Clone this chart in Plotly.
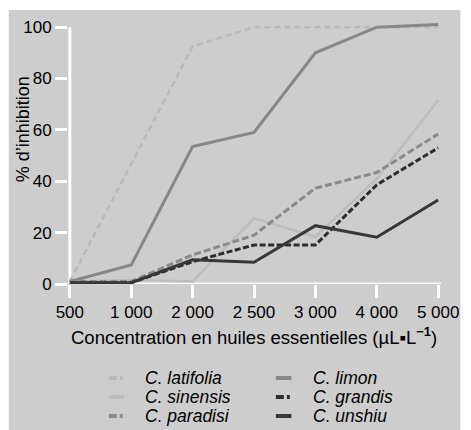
import plotly.graph_objects as go

concentrations = ["500", "1 000", "2 000", "2 500", "3 000", "4 000", "5 000"]
latifolia = [1, 47, 92.5, 100, 100, 100, 100]
sinensis = [1, 1.6, 1, 25.6, 18.4, 41, 71.5]
paradisi = [1, 1, 11.3, 19, 37.3, 43.4, 58.4]
limon = [1, 7.4, 53.5, 59, 90, 100, 101]
grandis = [0.5, 0.5, 8.7, 15.2, 15.2, 38.6, 53]
unshiu = [0.5, 0.5, 9.4, 8.5, 22.7, 18.2, 32.7]
y_ticks = [0, 20, 40, 60, 80, 100]

W, H = 471, 430
L, R, T, B = 68, 20, 22, 146
PW, PH = W - L - R, H - T - B


def px(x):
    return (x - L) / PW


def py(y):
    return (H - B - y) / PH


FONT = "Liberation Sans, Arial, Helvetica, sans-serif"
BG = "#cdcdcd"

series = [
    ("C. latifolia", latifolia, "#b9b9b9", "6px,4px", 2.5),
    ("C. sinensis", sinensis, "#bdbdbd", "solid", 2.5),
    ("C. paradisi", paradisi, "#8a8a8a", "7px,3px", 3),
    ("C. limon", limon, "#878787", "solid", 3),
    ("C. grandis", grandis, "#2e2e2e", "6px,2.5px", 3),
    ("C. unshiu", unshiu, "#383838", "solid", 3),
]

fig = go.Figure()
for name, vals, col, dash, w in series:
    fig.add_trace(go.Scatter(x=concentrations, y=vals, mode="lines", name=name,
                             line=dict(color=col, dash=dash, width=w),
                             showlegend=False, hoverinfo="skip"))

shapes = [
    dict(type="rect", xref="paper", yref="paper", x0=px(7), x1=px(472), y0=py(431), y1=py(10),
         fillcolor=BG, line=dict(width=0), layer="below"),
    dict(type="line", xref="x", yref="y", x0=0, x1=0, y0=0, y1=100,
         line=dict(color="white", width=3), layer="below"),
    dict(type="line", xref="paper", yref="y", x0=px(68), x1=px(452), y0=0, y1=0,
         line=dict(color="white", width=3), layer="below"),
]

annotations = [
    dict(text="% d\u2019inhibition", xref="paper", yref="paper", x=px(22), y=py(129),
         textangle=-90, showarrow=False, xanchor="center", yanchor="middle",
         font=dict(size=18, color="black", family=FONT)),
    dict(text="Concentration en huiles essentielles (\u00b5L\u25aaL<sup><b>\u22121</b></sup>)",
         xref="paper", yref="paper", x=px(260), y=py(336), showarrow=False,
         xanchor="center", yanchor="middle", font=dict(size=18.5, color="black", family=FONT)),
]

legend_dash = {
    "C. latifolia": "8px,3px,3px,20px",
    "C. sinensis": "solid",
    "C. paradisi": "8px,3px,3px,20px",
    "C. limon": "solid",
    "C. grandis": "8px,3px,3px,20px",
    "C. unshiu": "solid",
}
cols = [(110, 145), (282, 318)]
rows = [378, 397, 416]
for i, (name, vals, col, dash, w) in enumerate(series):
    c = i // 3
    r = i % 3
    sx, tx = cols[c]
    yy = rows[r]
    shapes.append(dict(type="line", xref="paper", yref="paper", x0=px(sx), x1=px(sx + 16),
                       y0=py(yy), y1=py(yy), line=dict(color=col, width=4, dash=legend_dash[name])))
    annotations.append(dict(text=f"<i>{name}</i>", xref="paper", yref="paper", x=px(tx), y=py(yy),
                            showarrow=False, xanchor="left", yanchor="middle",
                            font=dict(size=17.5, color="black", family=FONT)))

fig.update_layout(
    width=W, height=H,
    margin=dict(l=L, r=R, t=T, b=B, pad=0),
    paper_bgcolor="white",
    plot_bgcolor=BG,
    font=dict(family=FONT, size=17, color="black"),
    shapes=shapes,
    annotations=annotations,
    xaxis=dict(type="category", range=[-0.03, 6.03], showgrid=False, zeroline=False,
               showline=False, ticks="outside", ticklen=13, tickwidth=3, tickcolor="white",
               tickfont=dict(size=17, family=FONT, color="black"), layer="below traces",
               fixedrange=True),
    yaxis=dict(range=[0, 102], tickvals=y_ticks, showgrid=False, zeroline=False,
               showline=False, ticks="outside", ticklen=12, tickwidth=3, tickcolor="white",
               tickfont=dict(size=17, family=FONT, color="black"), layer="below traces",
               fixedrange=True),
)

fig.write_html("out.html", config={"displayModeBar": False},
               post_script="document.body.style.margin='0';document.body.style.padding='0';")
